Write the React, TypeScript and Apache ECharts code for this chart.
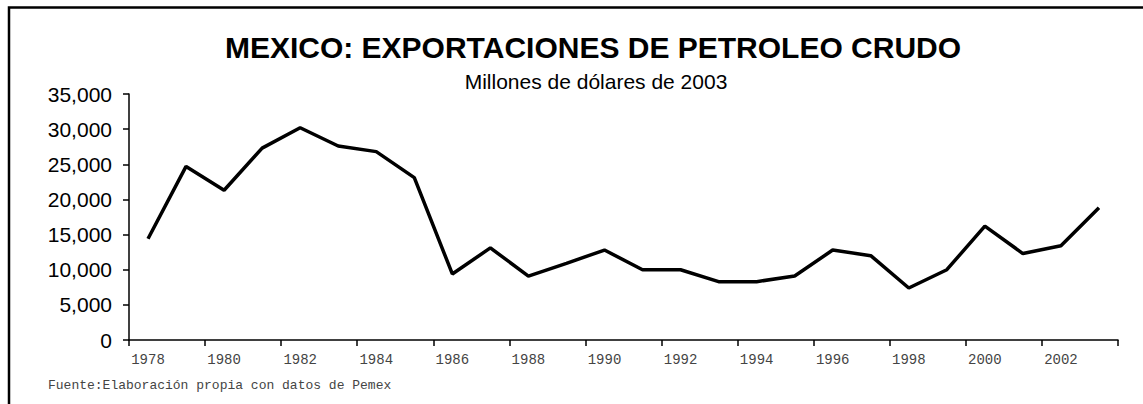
import React, { useEffect, useRef } from "react";
import * as echarts from "echarts";

const years: string[] = [
  "1978", "1979", "1980", "1981", "1982", "1983", "1984", "1985", "1986", "1987",
  "1988", "1989", "1990", "1991", "1992", "1993", "1994", "1995", "1996", "1997",
  "1998", "1999", "2000", "2001", "2002", "2003",
];

const exports: number[] = [
  14400, 24700, 21300, 27300, 30200, 27600, 26800, 23100, 9400, 13100,
  9100, 10900, 12800, 10000, 10000, 8300, 8300, 9100, 12800, 12000,
  7400, 10000, 16200, 12300, 13400, 18800,
];

const titleText = "MEXICO: EXPORTACIONES DE PETROLEO CRUDO";
const subtitleText = "Millones de dólares de 2003";
const sourceText = "Fuente:Elaboración propia con datos de Pemex";

export default function App() {
  const ref = useRef<HTMLDivElement>(null);

  useEffect(() => {
    document.body.style.margin = "0";
    if (!ref.current) return;
    const chart = echarts.init(ref.current, undefined, { renderer: "svg" });
    chart.setOption({
      animation: false,
      backgroundColor: "#ffffff",
      grid: { left: 129, right: 25, top: 94, bottom: 64, containLabel: false },
      xAxis: {
        type: "category",
        data: years,
        boundaryGap: true,
        axisLine: { show: true, lineStyle: { color: "#000", width: 1.5 } },
        axisTick: { show: true, interval: 1, length: 6, lineStyle: { color: "#000", width: 1.5 } },
        axisLabel: {
          interval: 1,
          fontFamily: "Liberation Mono",
          fontSize: 14,
          color: "#444",
          margin: 13,
        },
        splitLine: { show: false },
      },
      yAxis: {
        type: "value",
        min: 0,
        max: 35000,
        interval: 5000,
        axisLine: { show: true, lineStyle: { color: "#000", width: 1.5 } },
        axisTick: { show: true, length: 6, lineStyle: { color: "#000", width: 1.5 } },
        axisLabel: {
          fontFamily: "Liberation Sans",
          fontSize: 21,
          color: "#000",
          margin: 17,
          formatter: (v: number) => v.toLocaleString("en-US"),
        },
        splitLine: { show: false },
      },
      series: [
        {
          type: "line",
          data: exports,
          symbol: "none",
          lineStyle: { color: "#000", width: 3.5 },
        },
      ],
      graphic: [
        {
          type: "rect",
          shape: { x: 9, y: 7.5, width: 1300, height: 600 },
          style: { fill: "none", stroke: "#000", lineWidth: 2.5 },
          silent: true,
        },
        {
          type: "text",
          x: 593,
          y: 47,
          style: {
            text: titleText,
            fontFamily: "Liberation Sans",
            fontWeight: "bold",
            fontSize: 30,
            fill: "#000",
            textAlign: "center",
            textVerticalAlign: "middle",
          },
        },
        {
          type: "text",
          x: 596,
          y: 81,
          style: {
            text: subtitleText,
            fontFamily: "Liberation Sans",
            fontSize: 21,
            fill: "#000",
            textAlign: "center",
            textVerticalAlign: "middle",
          },
        },
        {
          type: "text",
          x: 48,
          y: 385,
          style: {
            text: sourceText,
            fontFamily: "Liberation Mono",
            fontSize: 13,
            fill: "#444",
            textAlign: "left",
            textVerticalAlign: "middle",
          },
        },
      ],
    });
    return () => chart.dispose();
  }, []);

  return (
    <div
      ref={ref}
      style={{ position: "absolute", left: 0, top: 0, width: 1143, height: 404 }}
    />
  );
}
